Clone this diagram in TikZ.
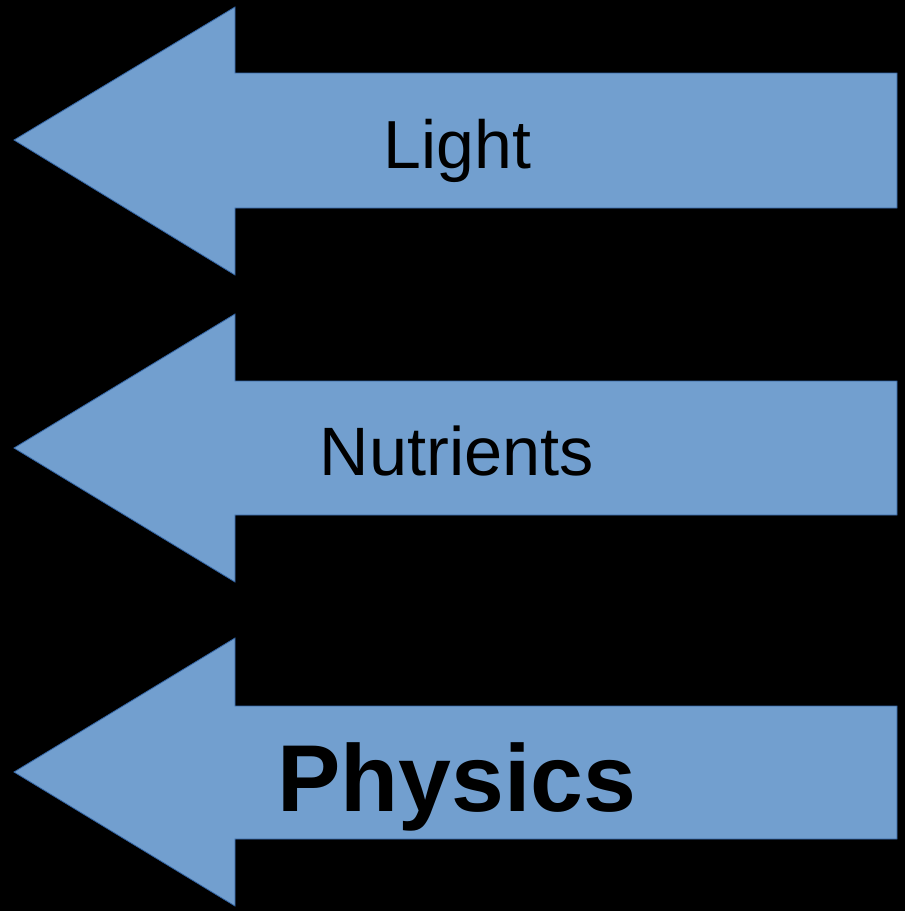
\documentclass[tikz,border=0pt]{standalone}
\usepackage{fontspec}
\setmainfont{Liberation Sans}
\definecolor{arrowblue}{HTML}{729FCF}
\definecolor{arrowedge}{HTML}{3465A4}
\tikzset{
  bigarrow/.style={fill=arrowblue, draw=arrowedge, line width=0.8bp, line join=miter},
  label/.style={anchor=base, inner sep=0pt, text=black}
}
\begin{document}
\begin{tikzpicture}[x=1bp, y=-1bp]
\fill[black] (0,0) rectangle (905,911);
\useasboundingbox (0,0) rectangle (905,911);
% Light
\draw[bigarrow] (14,140) -- (235,7) -- (235,73) -- (897,73) -- (897,208) -- (235,208) -- (235,275) -- cycle;
\node[label, font=\fontsize{68bp}{72bp}\selectfont] (light) at (457.5,168) {Light};
% Nutrients
\draw[bigarrow] (14,448) -- (235,314) -- (235,381) -- (897,381) -- (897,515) -- (235,515) -- (235,582) -- cycle;
\node[label, font=\fontsize{68.5bp}{72bp}\selectfont] (nutrients) at (457,475) {Nutrients};
% Physics
\draw[bigarrow] (14,772) -- (235,638) -- (235,706) -- (897,706) -- (897,839) -- (235,839) -- (235,906) -- cycle;
\node[label, font=\fontsize{95bp}{100bp}\selectfont\bfseries] (physics) at (457,811) {Physics};
\end{tikzpicture}
\end{document}
